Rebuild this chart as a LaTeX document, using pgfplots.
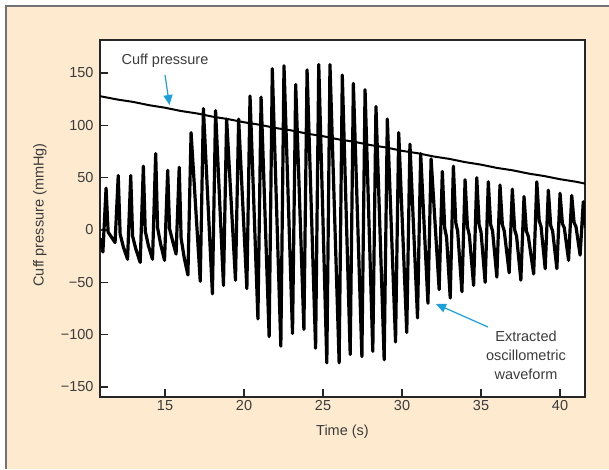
\documentclass[border=0pt]{standalone}
\usepackage{fontspec}
\setmainfont{Liberation Sans}
\usepackage{pgfplots}
\pgfplotsset{compat=1.18}
\usetikzlibrary{arrows.meta}
\definecolor{peach}{RGB}{253,234,207}
\definecolor{txt}{RGB}{60,60,60}
\definecolor{arrowblue}{RGB}{27,160,220}
\newcommand{\lbl}{\fontsize{14.5}{19}\selectfont}

\begin{document}
\begin{tikzpicture}[x=1pt,y=1pt]
\useasboundingbox (0,0) rectangle (609,-469);
\fill[white] (0,0) rectangle (609,-469);
\fill[peach] (6,-6) rectangle (609,-469);
\draw[black!55, line width=1.5pt] (6,-469) -- (6,-6) -- (609,-6);

\begin{axis}[
  at={(100pt,-397pt)}, anchor=south west,
  scale only axis, width=485pt, height=357pt,
  xmin=10.886, xmax=41.58,
  ymin=-159.6, ymax=181.5,
  axis background/.style={fill=white},
  axis line style={draw=black!85, line width=1.4pt},
  tick align=inside, tick pos=left,
  major tick length=8pt,
  major tick style={draw=black!85, line width=1.4pt},
  xtick={15,20,25,30,35,40},
  xticklabels={15,20,25,30,35,40},
  ytick={-150,-100,-50,0,50,100,150},
  yticklabels={−150,−100,−50,0,50,100,150},
  tick label style={font=\lbl, text=txt},
  yticklabel style={xshift=-3pt},
  xlabel={Time (s)},
  ylabel={Cuff pressure (mmHg)},
  label style={font=\lbl, text=txt},
  xlabel style={at={(axis description cs:0.5,-0.098)}, anchor=center},
  ylabel style={at={(axis description cs:-0.124,0.51)}, anchor=center, rotate=0},
]
% extracted oscillometric waveform
\addplot[black, line width=3.2pt, line join=round] coordinates {
(10.89,-8) (11.07,-21) (11.27,40) (11.40,-2) (11.62,-7) (11.84,-12)
(12.04,52) (12.16,-4) (12.36,-16) (12.63,-28)
(12.83,52) (12.95,-6) (13.15,-18) (13.43,-31)
(13.63,61) (13.75,-1) (13.95,-15) (14.21,-28)
(14.41,73) (14.53,2) (14.73,-14) (14.97,-29)
(15.17,57) (15.29,1) (15.49,-11) (15.70,-23)
(15.90,60) (16.02,-8) (16.22,-27) (16.45,-43)
(16.65,93) (17.23,-49)
(17.43,116) (18.00,-61)
(18.20,114) (18.70,-53)
(18.90,106) (19.46,-48)
(19.66,106) (20.18,-56)
(20.38,128) (20.88,-85)
(21.08,127) (21.59,-102)
(21.79,154) (22.33,-111)
(22.53,157) (23.07,-99)
(23.27,139) (23.79,-95)
(23.99,153) (24.53,-113)
(24.73,158) (25.24,-127)
(25.44,158) (26.02,-127)
(26.22,148) (26.72,-119)
(26.92,140) (27.46,-121)
(27.66,134) (28.15,-116)
(28.35,118) (28.87,-124)
(29.07,106) (29.59,-107)
(29.79,93) (30.30,-98)
(30.50,82) (30.98,-84)
(31.18,73) (31.64,-70)
(31.84,68) (32.35,-57)
(32.55,56) (32.70,2) (32.82,-7) (33.05,-65)
(33.25,61) (33.40,7) (33.52,-1) (33.79,-59)
(33.99,48) (34.14,3) (34.26,-5) (34.53,-53)
(34.73,50) (34.88,5) (35.00,-2) (35.26,-50)
(35.46,46) (35.61,5) (35.73,-1) (36.00,-45)
(36.20,43) (36.35,5) (36.47,-1) (36.78,-41)
(36.98,39) (37.13,0) (37.25,-6) (37.52,-48)
(37.72,32) (37.87,-1) (37.99,-6) (38.33,-42)
(38.53,46) (38.68,9) (38.80,3) (39.06,-37)
(39.26,38) (39.41,4) (39.53,-1) (39.80,-37)
(40.00,35) (40.15,6) (40.27,2) (40.54,-29)
(40.74,33) (40.89,7) (41.01,3) (41.27,-24)
(41.47,27) (41.62,2)
};
% cuff pressure
\addplot[black, line width=2pt, line join=round] coordinates {
(10.89,127.8) (12,124.6) (13,122.3) (14,119.2) (15,116.8) (16,113.7)
(17,111.4) (18,108.3) (19,105.9) (20,102.9) (21,100.5) (22,97.4)
(23,95.1) (24,92.0) (25,89.6) (26,86.5) (27,84.2) (28,81.1)
(29,78.8) (30,75.6) (31,73.3) (32,70.2) (33,67.9) (34,64.8)
(35,62.4) (36,59.3) (37,57.0) (38,53.9) (39,51.5) (40,48.5)
(41,46.1) (41.62,44.2)
};
\end{axis}

\node[font=\lbl, text=txt] at (165,-61) {Cuff pressure};
\draw[arrowblue, line width=1.2pt, -{Triangle[length=10pt,width=9pt]}] (165,-75) -- (169.5,-105);
\node[font=\lbl, text=txt, align=center] at (526,-355) {Extracted\\oscillometric\\waveform};
\draw[arrowblue, line width=1.2pt, -{Triangle[length=10pt,width=9pt]}] (488,-327) -- (436,-304);
\end{tikzpicture}
\end{document}
